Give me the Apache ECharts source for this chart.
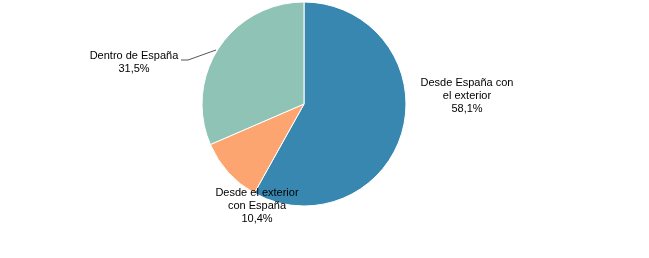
<!DOCTYPE html>
<html><head><meta charset="utf-8">
<script src="https://cdn.jsdelivr.net/npm/echarts@6/dist/echarts.min.js"></script>
<style>html,body{margin:0;padding:0;background:#fff}#c{width:649px;height:258px}</style>
</head><body><div id="c"></div>
<script>
const categories = ["Desde España con\nel exterior", "Desde el exterior\ncon España", "Dentro de España"];
const values = [58.1, 10.4, 31.5];
const colors = ["#3787b0", "#fca570", "#8fc3b5"];

const labelPos = [
  {x: 467, y: 96, align: 'center'},
  {x: 257, y: 206, align: 'center'},
  {x: 134, y: 62, align: 'center'}
];

const chart = echarts.init(document.getElementById('c'), null, {renderer: 'canvas'});
chart.setOption({
  animation: false,
  series: [{
    type: 'pie',
    center: [304, 104],
    radius: [0, 102],
    startAngle: 90,
    clockwise: true,
    itemStyle: {borderColor: '#fff', borderWidth: 1},
    label: {
      show: true,
      position: 'outside',
      fontFamily: 'Liberation Sans, Arial, sans-serif',
      fontSize: 11,
      lineHeight: 13,
      color: '#000',
      align: 'center',
      formatter: p => p.name + '\n' + String(p.value).replace('.', ',') + '%'
    },
    labelLine: {show: false},
    emphasis: {disabled: true},
    data: categories.map((n, i) => ({
      name: n, value: values[i],
      itemStyle: {color: colors[i]},
      labelLine: i === 2 ? {show: true, lineStyle: {color: '#555', width: 1}} : {show: false}
    })),
    labelLayout: function (params) {
      const p = labelPos[params.dataIndex];
      const r = {x: p.x, y: p.y, align: p.align, verticalAlign: 'middle'};
      if (params.dataIndex === 2) {
        r.labelLinePoints = [[216, 50], [188, 60], [181, 60]];
      }
      return r;
    }
  }]
});
</script>
</body></html>
